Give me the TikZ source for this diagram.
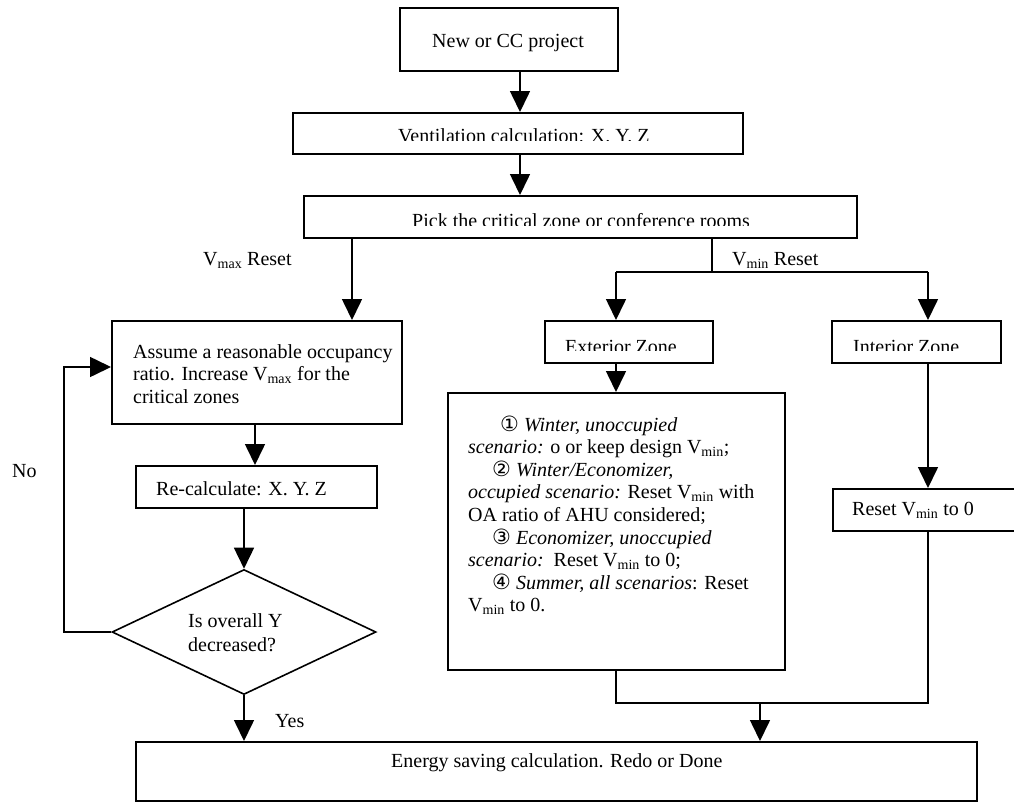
\documentclass[tikz,border=0pt]{standalone}
\usepackage{fontspec}
\setmainfont{Liberation Serif}
\newfontfamily\circfont{DejaVu Sans}
\usetikzlibrary{arrows.meta,shapes.geometric}
\newcommand\Sub[1]{\textsubscript{#1}}
\newcommand\Circ[1]{{\circfont\fontsize{21}{22}\selectfont #1}}
\begin{document}
\begin{tikzpicture}[x=1pt,y=-1pt,
  font=\fontsize{20}{22.6}\selectfont,
  box/.style={draw,line width=1.6pt,rectangle,inner sep=0pt,anchor=north west},
  txt/.style={inner sep=0pt,anchor=base west},
  arr/.style={line width=1.6pt,-{Triangle[width=20pt,length=21pt]}},
  lin/.style={line width=1.6pt}]
\useasboundingbox (0,0) rectangle (1014,803);
\begin{scope}
\clip (0,0) rectangle (1014,803);
% boxes
\node[box,minimum width=218pt,minimum height=63pt] (new) at (399,7) {};
\node[box,minimum width=450pt,minimum height=41pt] (vent) at (292,112) {};
\node[box,minimum width=553pt,minimum height=42pt] (pick) at (303,195) {};
\node[box,minimum width=290pt,minimum height=103pt] (assume) at (111,320) {};
\node[box,minimum width=241pt,minimum height=42pt] (recalc) at (135,465) {};
\node[draw,line width=1.6pt,diamond,inner sep=0pt,minimum width=264pt,minimum height=125pt] (dec) at (244,632) {};
\node[box,minimum width=841pt,minimum height=59pt] (energy) at (135,741) {};
\node[box,minimum width=168pt,minimum height=42pt] (ext) at (544,320) {};
\node[box,minimum width=337pt,minimum height=277pt] (big) at (447,392) {};
\node[box,minimum width=169pt,minimum height=42pt] (int) at (831,320) {};
\node[box,minimum width=190pt,minimum height=42pt] (reset) at (832,488) {};
% texts
\node[txt] (tnew) at (432,47) {New or CC project};
\begin{scope}
\clip (292,112) rectangle (742,140.5);
\node[txt] (tvent) at (398,142.8) {Ventilation calculation: X. Y. Z};
\end{scope}
\begin{scope}
\clip (303,195) rectangle (856,225);
\node[txt] (tpick) at (412,227.3) {Pick the critical zone or conference rooms};
\end{scope}
\begin{scope}
\clip (544,320) rectangle (712,350.7);
\node[txt] (text) at (565,353) {Exterior Zone};
\end{scope}
\begin{scope}
\clip (831,320) rectangle (1000,350.7);
\node[txt] (tint) at (853,353) {Interior Zone};
\end{scope}
\node[txt] (tvmax) at (203,265) {V\Sub{max} Reset};
\node[txt] (tvmin) at (732,265) {V\Sub{min} Reset};
\node[txt] (ta1) at (133,358) {Assume a reasonable occupancy};
\node[txt] (ta2) at (133,380.6) {ratio. Increase V\Sub{max} for the};
\node[txt] (ta3) at (133,403.2) {critical zones};
\node[txt] (trc) at (156,495) {Re-calculate: X. Y. Z};
\node[txt] (td1) at (188,627) {Is overall Y};
\node[txt] (td2) at (188,651) {decreased?};
\node[txt] (tyes) at (275,727) {Yes};
\node[txt] (tno) at (12,477) {No};
\node[txt] (tres) at (852,515) {Reset V\Sub{min} to 0};
\node[txt] (ten) at (391,767) {Energy saving calculation. Redo or Done};
% big box lines
\node[txt] (b1) at (500,431) {\Circ{①} \textit{Winter, unoccupied}};
\node[txt] (b2) at (468,453.6) {\textit{scenario:} o or keep design V\Sub{min};};
\node[txt] (b3) at (492,476.2) {\Circ{②} \textit{Winter/Economizer,}};
\node[txt] (b4) at (468,498.8) {\textit{occupied scenario:} Reset V\Sub{min} with};
\node[txt] (b5) at (468,521.4) {OA ratio of AHU considered;};
\node[txt] (b6) at (492,544) {\Circ{③} \textit{Economizer, unoccupied}};
\node[txt] (b7) at (468,566.6) {\textit{scenario:}\ \ Reset V\Sub{min} to 0;};
\node[txt] (b8) at (492,589.2) {\Circ{④} \textit{Summer, all scenarios}: Reset};
\node[txt] (b9) at (468,611.8) {V\Sub{min} to 0.};
% coordinates
\coordinate (cA) at (520,0);
\coordinate (cVmax) at (352,0);
\coordinate (cVmin) at (712,272);
\coordinate (cExt) at (616,272);
\coordinate (cInt) at (928,272);
\coordinate (cAs) at (255,0);
\coordinate (cLoop) at (64,367);
\coordinate (mL) at (616,703);
\coordinate (mR) at (928,703);
\coordinate (mC) at (760,703);
% connectors
\draw[arr] (new.south -| cA) -- (vent.north -| cA);
\draw[arr] (vent.south -| cA) -- (pick.north -| cA);
\draw[arr] (pick.south -| cVmax) -- (assume.north -| cVmax);
\draw[lin] (pick.south -| cVmin) -- (cVmin);
\draw[lin] (cExt) -- (cInt);
\draw[arr] (cExt) -- (ext.north -| cExt);
\draw[arr] (cInt) -- (int.north -| cInt);
\draw[arr] (ext.south -| cExt) -- (big.north -| cExt);
\draw[arr] (int.south -| cInt) -- (reset.north -| cInt);
\draw[arr] (assume.south -| cAs) -- (recalc.north -| cAs);
\draw[arr] (recalc.south -| dec.north) -- (dec.north);
\draw[arr] (dec.south) -- (energy.north -| dec.south);
\draw[arr] (dec.west) -- (dec.west -| cLoop) -- (cLoop) -- (assume.west |- cLoop);
\draw[lin] (big.south -| mL) -- (mL) -- (mR) -- (reset.south -| mR);
\draw[arr] (mC) -- (energy.north -| mC);
\end{scope}
\end{tikzpicture}
\end{document}
